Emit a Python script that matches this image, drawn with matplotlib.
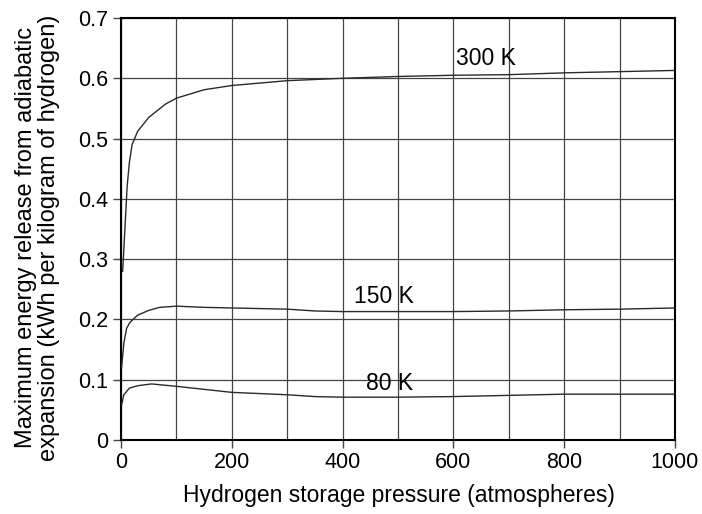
import numpy as np
import matplotlib
matplotlib.use('Agg')
from matplotlib import pyplot as plt
from matplotlib.ticker import MultipleLocator, FuncFormatter


# pressure (atm) and energy release (kWh/kg H2) for each temperature
p_300 = [3, 7, 11, 15, 20, 30, 50, 80, 100, 150, 200, 300, 400, 500, 600, 700, 800, 900, 1000]
e_300 = [0.28, 0.35, 0.42, 0.46, 0.49, 0.512, 0.535, 0.557, 0.567, 0.581, 0.588, 0.596,
         0.600, 0.603, 0.605, 0.606, 0.609, 0.611, 0.613]

p_150 = [1, 5, 10, 16, 30, 50, 70, 100, 150, 200, 300, 350, 400, 500, 600, 700, 800, 900, 1000]
e_150 = [0.12, 0.16, 0.185, 0.195, 0.207, 0.215, 0.22, 0.222, 0.22, 0.219, 0.217, 0.214,
         0.213, 0.213, 0.213, 0.214, 0.216, 0.217, 0.219]

p_80 = [1, 5, 15, 30, 55, 100, 150, 200, 300, 350, 400, 500, 600, 700, 800, 900, 1000]
e_80 = [0.058, 0.075, 0.086, 0.09, 0.093, 0.089, 0.084, 0.079, 0.075, 0.072, 0.071,
        0.071, 0.072, 0.074, 0.076, 0.076, 0.076]

curve_labels = ['300 K', '150 K', '80 K']
label_pos = [(659, 0.632), (475, 0.238), (484, 0.093)]

matplotlib.rc('font', family='Liberation Sans', size=15.5)

fig = plt.figure(figsize=(7.02, 5.14), dpi=100)
ax = fig.add_axes([0.1724, 0.144, 0.789, 0.821])

for p, e in [(p_300, e_300), (p_150, e_150), (p_80, e_80)]:
    ax.plot(p, e, color='#2a2a2a', lw=1.0, zorder=3)

for text, (x, y) in zip(curve_labels, label_pos):
    ax.text(x, y, text, ha='center', va='center', fontsize=16.5, zorder=4)

ax.set_xlim(0, 1000)
ax.set_ylim(0, 0.7)
ax.xaxis.set_major_locator(MultipleLocator(200))
ax.xaxis.set_minor_locator(MultipleLocator(100))
ax.yaxis.set_major_locator(MultipleLocator(0.1))
ax.yaxis.set_major_formatter(FuncFormatter(lambda v, pos: '0' if abs(v) < 1e-9 else f'{v:.1f}'))

ax.grid(which='both', color='#444444', lw=0.9)
ax.tick_params(which='major', direction='out', length=6, width=1, color='#444444', pad=3)
ax.tick_params(which='minor', length=0)
for s in ax.spines.values():
    s.set_linewidth(1.5)

ax.set_xlabel('Hydrogen storage pressure (atmospheres)', fontsize=16.5, labelpad=8)
ax.set_ylabel('Maximum energy release from adiabatic\n'
              'expansion (kWh per kilogram of hydrogen)', fontsize=17, linespacing=1.05)
ax.xaxis.set_label_coords(0.502, -0.105)
ax.yaxis.set_label_coords(-0.110, 0.48)

plt.savefig('out.png', dpi=100)
